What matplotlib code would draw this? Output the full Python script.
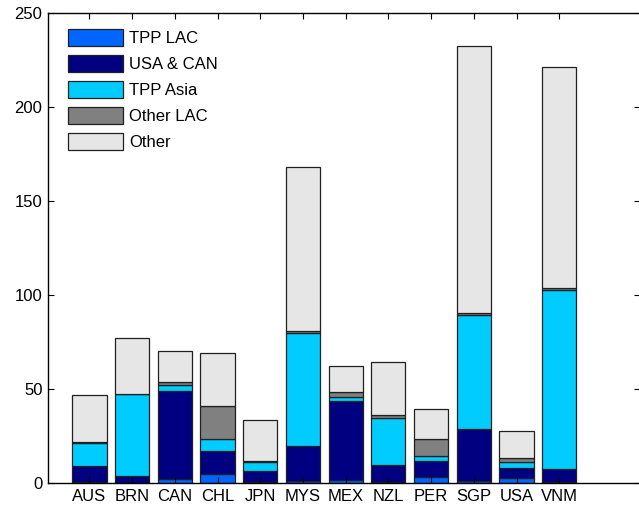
import matplotlib.pyplot as plt
import numpy as np
from matplotlib.patches import Patch

plt.rcParams['font.family'] = ['Liberation Sans', 'DejaVu Sans']

# Countries and stacked components
countries = ['AUS', 'BRN', 'CAN', 'CHL', 'JPN', 'MYS', 'MEX', 'NZL', 'PER', 'SGP', 'USA', 'VNM']
tpp_lac = [0.3, 0.2, 2.0, 4.9, 0.3, 1.2, 1.6, 0.3, 3.4, 1.3, 2.8, 0.3]
usa_can = [8.5, 3.3, 47.0, 12.1, 6.3, 18.6, 42.0, 9.3, 8.3, 27.2, 5.4, 7.1]
tpp_asia = [12.5, 43.6, 3.0, 6.2, 4.8, 59.8, 2.0, 24.8, 2.8, 61.0, 3.2, 95.3]
other_lac = [0.5, 0.3, 1.5, 17.8, 0.5, 1.0, 2.6, 1.9, 8.7, 1.0, 1.8, 1.0]
other = [25.0, 29.8, 16.7, 28.1, 21.8, 87.5, 14.0, 28.1, 16.2, 141.9, 14.6, 117.6]

labels = ['TPP LAC', 'USA & CAN', 'TPP Asia', 'Other LAC', 'Other']
colors = ['#0066FF', '#000080', '#00CCFF', '#808080', '#E6E6E6']
series = [tpp_lac, usa_can, tpp_asia, other_lac, other]

fig = plt.figure(figsize=(6.39, 5.08), dpi=100)
ax = fig.add_axes([48 / 639, 25 / 508, 591.5 / 639, 470 / 508])

x = np.arange(1, len(countries) + 1)
bottom = np.zeros(len(countries))
for vals, col in zip(series, colors):
    ax.bar(x, vals, width=0.8, bottom=bottom, color=col, edgecolor='#202020', linewidth=0.9)
    bottom += np.array(vals)

ax.set_xlim(0.03, 13.88)
ax.set_ylim(0, 250)
ax.set_xticks(x)
ax.set_xticklabels(countries)
ax.set_yticks(np.arange(0, 251, 50))
ax.tick_params(axis='both', direction='in', length=4, width=0.8, labelsize=12,
               top=True, right=True, pad=4)
for s in ax.spines.values():
    s.set_linewidth(1.0)

handles = [Patch(facecolor=c, edgecolor='#202020', linewidth=0.9) for c in colors]
ax.legend(handles, labels, loc='upper left', bbox_to_anchor=(0.034, 0.966),
          frameon=False, fontsize=12, handlelength=3.3, handleheight=1.2,
          handletextpad=0.35, labelspacing=0.53, borderpad=0, borderaxespad=0)

plt.savefig('out.png', dpi=100)
